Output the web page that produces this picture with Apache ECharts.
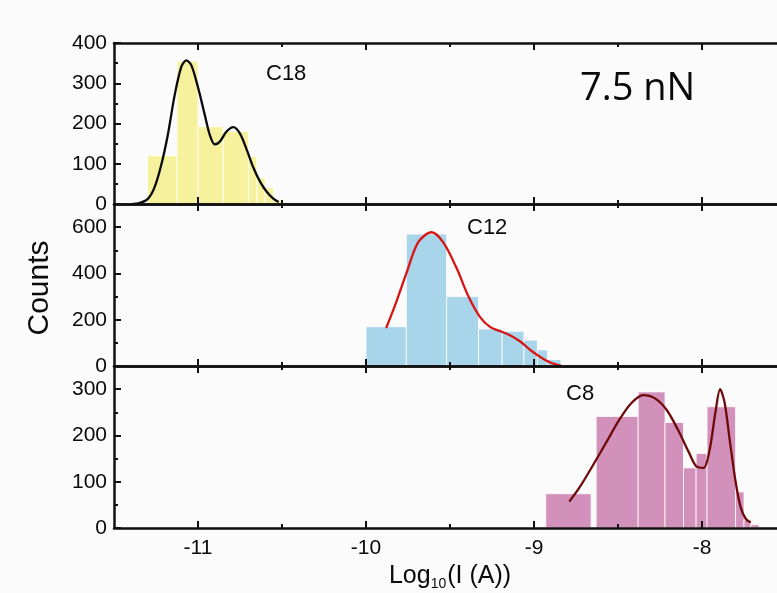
<!DOCTYPE html>
<html>
<head>
<meta charset="utf-8">
<script src="https://cdn.jsdelivr.net/npm/echarts@6/dist/echarts.min.js"></script>
<style>html,body{margin:0;padding:0;background:#fbfbfb;}#c{width:777px;height:593px;}</style>
</head>
<body>
<div id="c"></div>
<script>
// ---- data ----
const xMajorTicks = [-11, -10, -9, -8];
const xMinorTicks = [-10.5, -9.5, -8.5];
const panelNames = ['C18', 'C12', 'C8'];

// C18 histogram (bin start, bin end, counts)
const c18Start  = [-11.30, -11.125, -11.00, -10.85, -10.70, -10.65, -10.60, -10.55];
const c18End    = [-11.125, -11.00, -10.85, -10.70, -10.65, -10.60, -10.55, -10.50];
const c18Counts = [120, 355, 192, 180, 118, 65, 40, 8];
const c18CurveX = [-11.39, -11.35, -11.30, -11.26, -11.22, -11.18, -11.14, -11.10, -11.07, -11.04, -11.00, -10.96, -10.93, -10.90, -10.87, -10.83, -10.79, -10.75, -10.71, -10.67, -10.63, -10.59, -10.55, -10.52];
const c18CurveY = [0, 2, 12, 40, 95, 171, 268, 340, 357, 345, 290, 222, 172, 148, 155, 180, 191, 175, 135, 90, 55, 30, 13, 5];

// C12 histogram
const c12Start  = [-10.00, -9.76, -9.52, -9.33, -9.19, -9.06, -8.98, -8.92];
const c12End    = [-9.76, -9.52, -9.33, -9.19, -9.06, -8.98, -8.92, -8.84];
const c12Counts = [170, 570, 300, 160, 150, 112, 70, 28];
const c12CurveX = [-9.88, -9.82, -9.76, -9.69, -9.61, -9.54, -9.46, -9.39, -9.32, -9.26, -9.20, -9.14, -9.08, -9.02, -8.96, -8.90, -8.84];
const c12CurveY = [164, 276, 400, 534, 578, 534, 422, 300, 210, 168, 150, 132, 105, 68, 38, 14, 2];

// C8 histogram
const c8Start  = [-8.93, -8.63, -8.38, -8.22, -8.11, -8.035, -7.97, -7.80, -7.75, -7.71];
const c8End    = [-8.66, -8.38, -8.22, -8.11, -8.035, -7.97, -7.80, -7.75, -7.71, -7.66];
const c8Counts = [74, 241, 294, 228, 130, 161, 262, 78, 17, 7];
const c8CurveX = [-8.79, -8.73, -8.65, -8.57, -8.49, -8.42, -8.35, -8.28, -8.21, -8.14, -8.08, -8.03, -7.99, -7.955, -7.92, -7.892, -7.865, -7.835, -7.80, -7.77, -7.74, -7.71];
const c8CurveY = [57, 87, 135, 185, 235, 270, 287, 280, 255, 210, 165, 132, 130, 168, 250, 300, 270, 190, 100, 45, 20, 12];

// y-axis ticks per panel
const yMax = [400, 700, 350];
const yMajorTicks = [[0, 100, 200, 300, 400], [0, 200, 400, 600], [0, 100, 200, 300]];
const yMinorTicks = [[50, 150, 250, 350], [100, 300, 500], [50, 150, 250]];

// ---- build ----
const barColors = ['#f6f19c', '#a9d5eb', '#d191ba'];
const lineColors = ['#0a0a0a', '#d81414', '#6e0a0a'];
const hist = [
  [c18Start, c18End, c18Counts, c18CurveX, c18CurveY],
  [c12Start, c12End, c12Counts, c12CurveX, c12CurveY],
  [c8Start, c8End, c8Counts, c8CurveX, c8CurveY]
];
const gridTops = [43, 204, 366];
const gridHeights = [161, 162, 162];
const AX = '#111';
const labelFont = {fontFamily: 'Liberation Sans', fontSize: 21, color: '#0a0a0a'};

const grids = [], xAxes = [], yAxes = [], series = [];
function xAxis(g, pos, ticks, len, line, labels) {
  xAxes.push({
    type: 'value', gridIndex: g, position: pos, min: -11.5, max: -7.5, z: 5,
    axisLine: {show: line, onZero: false, lineStyle: {color: AX, width: 2.5}},
    axisTick: {show: true, inside: true, length: len, customValues: ticks, lineStyle: {color: AX, width: 2}},
    axisLabel: labels ? Object.assign({show: true, margin: 10, customValues: ticks}, labelFont) : {show: false},
    splitLine: {show: false}
  });
  return xAxes.length - 1;
}
function yAxis(g, pos, max, ticks, len, line, labels) {
  yAxes.push({
    type: 'value', gridIndex: g, position: pos, min: 0, max: max, z: 5,
    axisLine: {show: line, onZero: false, lineStyle: {color: AX, width: 2.5}},
    axisTick: {show: true, inside: true, length: len, customValues: ticks, lineStyle: {color: AX, width: 2}},
    axisLabel: labels ? Object.assign({show: true, margin: 7, customValues: ticks}, labelFont) : {show: false},
    splitLine: {show: false}
  });
  return yAxes.length - 1;
}

for (let g = 0; g < 3; g++) {
  grids.push({left: 114, top: gridTops[g], width: 672, height: gridHeights[g],
    containLabel: false, outerBoundsMode: 'none'});
  const xb = xAxis(g, 'bottom', xMajorTicks, 7, true, g === 2);
  xAxis(g, 'bottom', xMinorTicks, 4, false, false);
  xAxis(g, 'top', xMajorTicks, 7, true, false);
  xAxis(g, 'top', xMinorTicks, 4, false, false);
  const yl = yAxis(g, 'left', yMax[g], yMajorTicks[g], 7, true, true);
  yAxis(g, 'left', yMax[g], yMinorTicks[g], 4, false, false);
  yAxis(g, 'right', yMax[g], yMajorTicks[g], 7, true, false);
  yAxis(g, 'right', yMax[g], yMinorTicks[g], 4, false, false);

  const [s, e, c, cx, cy] = hist[g];
  const color = barColors[g];
  series.push({
    type: 'custom', name: panelNames[g] + ' hist', xAxisIndex: xb, yAxisIndex: yl, z: 2,
    data: s.map((v, i) => [v, e[i], c[i]]),
    encode: {x: [0, 1], y: 2},
    renderItem: function (params, api) {
      const p0 = api.coord([api.value(0), 0]);
      const p1 = api.coord([api.value(1), api.value(2)]);
      return {type: 'rect',
        shape: {x: p0[0], y: p1[1], width: p1[0] - p0[0], height: p0[1] - p1[1]},
        style: {fill: color, stroke: '#ffffff', lineWidth: 0.8}};
    }
  });
  series.push({
    type: 'line', name: panelNames[g] + ' fit', xAxisIndex: xb, yAxisIndex: yl, z: 3,
    data: cx.map((v, i) => [v, cy[i]]),
    smooth: 0.3, showSymbol: false, symbol: 'none',
    lineStyle: {color: lineColors[g], width: 2.3}
  });
}
// x axis title on bottom panel
xAxes[8].name = '{a|Log}{s|10}{a|(I (A))}';
xAxes[8].nameLocation = 'middle';
xAxes[8].nameGap = 33;
xAxes[8].nameTextStyle = {
  rich: {
    a: {fontFamily: 'Liberation Sans', fontSize: 25, color: '#0a0a0a'},
    s: {fontFamily: 'Liberation Sans', fontSize: 14, color: '#0a0a0a', padding: [16, 1, 0, 0]}
  }
};

const chart = echarts.init(document.getElementById('c'), null, {renderer: 'canvas'});
chart.setOption({
  backgroundColor: '#fbfbfb',
  animation: false,
  grid: grids,
  xAxis: xAxes,
  yAxis: yAxes,
  series: series,
  graphic: [
    {type: 'text', left: 266, top: 63, style: {text: panelNames[0], fontFamily: 'Liberation Sans', fontSize: 22, fill: '#0a0a0a'}},
    {type: 'text', left: 467, top: 217, style: {text: panelNames[1], fontFamily: 'Liberation Sans', fontSize: 22, fill: '#0a0a0a'}},
    {type: 'text', left: 566, top: 383, style: {text: panelNames[2], fontFamily: 'Liberation Sans', fontSize: 22, fill: '#0a0a0a'}},
    {type: 'text', left: 580, top: 70, style: {text: '7.5 nN', fontFamily: 'Open Sans', fontSize: 38, fill: '#0a0a0a'}},
    {type: 'text', x: 40, y: 288, rotation: Math.PI / 2,
      style: {text: 'Counts', fontFamily: 'Liberation Sans', fontSize: 30, fill: '#0a0a0a', align: 'center', verticalAlign: 'middle'}}
  ]
});
</script>
</body>
</html>
